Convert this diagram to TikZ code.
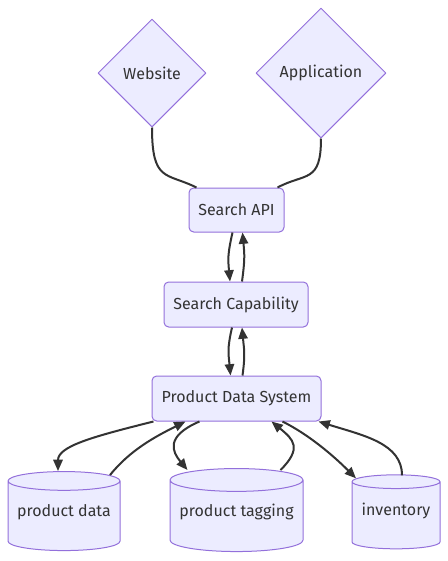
\documentclass[tikz,border=0pt]{standalone}
\usepackage{fontspec}
\setmainfont{Fira Sans}
\usetikzlibrary{shapes.geometric,arrows.meta,calc}
\definecolor{nodefill}{HTML}{ECECFF}
\definecolor{nodeline}{HTML}{9370DB}
\definecolor{ink}{HTML}{333333}
\newcommand{\storetext}[1]{\raisebox{9pt}{#1}}

\begin{document}
\begin{tikzpicture}[
  x = 0.75pt,
  y = -0.75pt,
  line join=round,
  base/.style = {fill=nodefill, draw=nodeline, line width=0.75pt,
                 text=ink, font=\fontsize{12}{14}\selectfont, inner sep=0pt},
  choice/.style = {base, diamond, aspect=1},
  box/.style = {base, rectangle, rounded corners=3.5pt},
  store/.style = {base, cylinder, shape border rotate=90, aspect=0.2},
  link/.style = {draw=ink, line width=1.5pt},
  flow/.style = {link, -{Triangle[length=8.5pt,width=7pt]}}
]
  \useasboundingbox (0,0) rectangle (448,561);

  % entry points
  \node (web) at (152,73) [choice, minimum size=81pt] {Website};
  \node (app) at (321,73) [choice, minimum size=97.5pt] {Application};

  % service layers
  \node (api) at (236.5,210)   [box, minimum width=71.25pt, minimum height=33pt] {Search API};
  \node (cap) at (236,304.5)   [box, minimum width=108pt, minimum height=33.75pt] {Search Capability};
  \node (pds) at (236.5,398.5) [box, minimum width=126.75pt, minimum height=33.75pt] {Product Data System};

  % data stores
  \node (pdata) at (64,516)   [store, minimum width=84pt, minimum height=59.25pt] {\storetext{product data}};
  \node (ptag) at (236.5,516) [store, minimum width=99.75pt, minimum height=62.25pt] {\storetext{product tagging}};
  \node (inv) at (396,515.5)  [store, minimum width=66pt, minimum height=55.5pt] {\storetext{inventory}};

  % clients to api
  \draw[link] (web.south) .. controls +(0,55) and +(-30,-15) .. ($(api.north west)+(8,0)$);
  \draw[link] (app.south) .. controls +(0,45) and +(28,-15) .. ($(api.north east)+(-7,0)$);

  % api <-> capability <-> system
  \draw[flow] ($(api.south)+(-4,0)$) .. controls +(-5,22) and +(-2,-22) .. ($(cap.north)+(-6,0)$);
  \draw[flow] ($(cap.north)+(6,0)$) .. controls +(3,-22) and +(2,22) .. ($(api.south)+(6,0)$);
  \draw[flow] ($(cap.south)+(-4,0)$) .. controls +(-5,22) and +(-2,-22) .. ($(pds.north)+(-6,0)$);
  \draw[flow] ($(pds.north)+(6,0)$) .. controls +(3,-22) and +(2,22) .. ($(cap.south)+(6,0)$);

  % system <-> stores
  \draw[flow] ($(pds.south west)+(2,0)$) .. controls +(-60,15) and +(0,-25) .. ($(pdata.north)+(-6,0)$);
  \draw[flow] ($(pdata.north)+(46,4)$) .. controls +(20,-25) and +(-30,15) .. ($(pds.south)+(-51,0)$);
  \draw[flow] ($(pds.south)+(-37,0)$) .. controls +(-35,15) and +(-15,-18) .. ($(ptag.north)+(-49,2)$);
  \draw[flow] ($(ptag.north)+(44,2)$) .. controls +(22,-22) and +(22,18) .. ($(pds.south)+(35,0)$);
  \draw[flow] ($(pds.south)+(46,0)$) .. controls +(30,15) and +(-18,-18) .. ($(inv.north)+(-40,4)$);
  \draw[flow] ($(inv.north)+(6,1)$) .. controls +(0,-32) and +(45,14) .. ($(pds.south east)+(-3,0)$);
\end{tikzpicture}
\end{document}
